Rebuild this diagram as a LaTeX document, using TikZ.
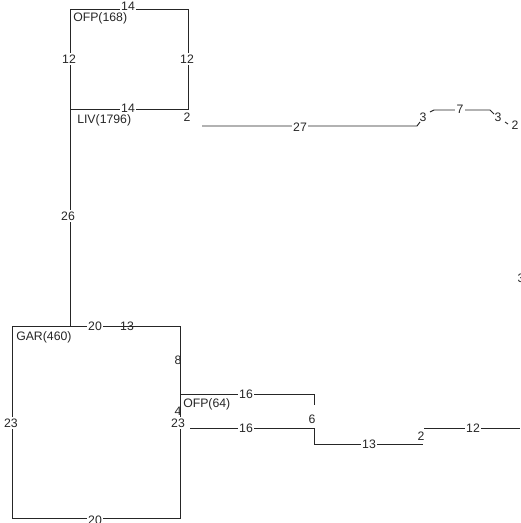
\documentclass[tikz,border=0pt]{standalone}
\usepackage{fontspec}
\setmainfont{Liberation Sans}
\begin{document}
\begin{tikzpicture}[x=0.75pt, y=-0.75pt, font=\fontsize{9.2}{11}\selectfont,
    pipe/.style = {draw=black!85, line width=0.7pt},
    len/.style  = {fill=white, inner sep=1pt, text=black!85},
    bare/.style = {inner sep=0pt, text=black!85},
    tag/.style  = {anchor=west, inner sep=0pt, text=black!85}]
    \useasboundingbox (0,0) rectangle (520,523);

    % upper loop
    \draw[pipe] (70,9) -- (188,9) -- (188,109) -- (70,109) -- cycle;
    \draw[pipe] (70,109) -- (70,326);
    \node[len] (ofpTop) at (128,6) {14};
    \node[len] (ofpL) at (69,59) {12};
    \node[len] (ofpR) at (187,59) {12};
    \node[len] (livTop) at (128,108) {14};
    \node[tag] (ofpA) at (73,18) {OFP(168)};
    \node[tag] (livA) at (77,120) {LIV(1796)};
    \node[bare] (livB) at (187,117) {2};
    \node[len] (livRun) at (68,216) {26};

    % long run to the right
    \draw[pipe] (202,126) -- (417,126) -- (420,122);
    \node[len] (run27) at (300,127) {27};
    \node[bare] (runA) at (423,117) {3};
    \draw[pipe] (430,112) -- (434,110) -- (490,110) -- (494,114);
    \node[len] (run7) at (460,109) {7};
    \node[bare] (runB) at (498,117) {3};
    \draw[pipe] (505,122) -- (508,124);
    \node[bare] (runC) at (515,125) {2};
    \node[bare] (edge3) at (521,278) {3};

    % lower loop
    \draw[pipe] (12,326) rectangle (180,518);
    \node[len] (garTop) at (95,326) {20};
    \node[bare] (garTopB) at (127,326) {13};
    \node[tag] (garA) at (16,337) {GAR(460)};
    \node[len] (garL) at (11,423) {23};
    \node[len] (garBot) at (95,520) {20};
    \node[bare] (garR8) at (178,360) {8};
    \node[bare] (garR4) at (178,411) {4};
    \node[len] (garR23) at (178,423) {23};

    % branch
    \draw[pipe] (180,394) -- (314,394) -- (314,405);
    \node[len] (ofpB) at (246,394) {16};
    \node[tag] (ofpBA) at (183,404) {OFP(64)};
    \node[bare] (br6) at (312,419) {6};
    \draw[pipe] (190,428) -- (314,428) -- (314,444) -- (423,444);
    \node[len] (br16) at (246,428) {16};
    \node[len] (br13) at (369,444) {13};
    \node[bare] (br2) at (421,436) {2};
    \draw[pipe] (424,428) -- (520,428);
    \node[len] (br12) at (473,428) {12};
\end{tikzpicture}
\end{document}
